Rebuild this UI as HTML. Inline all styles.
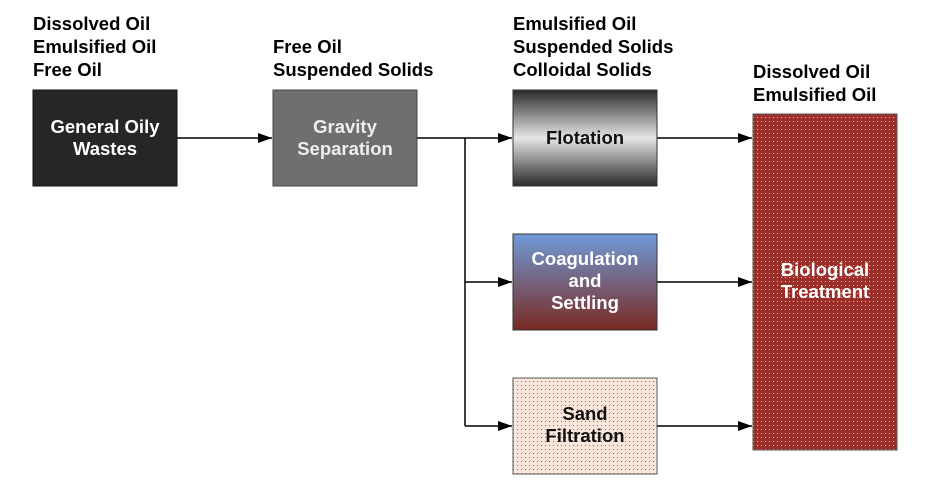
<!DOCTYPE html>
<html><head><style>body{margin:0;background:#fff}</style></head><body>
<svg width="929" height="491" xmlns="http://www.w3.org/2000/svg" font-family="Liberation Sans, Arial, sans-serif" font-weight="bold">
<defs>
<linearGradient id="flo" x1="0" y1="0" x2="0" y2="1">
<stop offset="0" stop-color="#2a2a2a"/><stop offset="0.5" stop-color="#e6e6e6"/><stop offset="1" stop-color="#2a2a2a"/></linearGradient>
<linearGradient id="coa" x1="0" y1="0" x2="0" y2="1">
<stop offset="0" stop-color="#6f9ad8"/><stop offset="1" stop-color="#7a2a22"/></linearGradient>
<pattern id="dotr" width="4" height="4" patternUnits="userSpaceOnUse"><rect width="4" height="4" fill="#9a2f2a"/><rect x="1" y="1" width="1" height="1" fill="#e8c8c4"/></pattern>
<pattern id="dots" width="4" height="4" patternUnits="userSpaceOnUse"><rect width="4" height="4" fill="#fbe6dc"/><rect x="1" y="1" width="1" height="1" fill="#8a6a60"/></pattern>
<marker id="ar" markerWidth="14" markerHeight="10" refX="14" refY="5" orient="auto" markerUnits="userSpaceOnUse"><path d="M0,0 L14,5 L0,10 z" fill="#000"/></marker>
</defs>
<g font-size="18.5" fill="#000">
<text x="33" y="30">Dissolved Oil</text><text x="33" y="53">Emulsified Oil</text><text x="33" y="76">Free Oil</text>
<text x="273" y="53">Free Oil</text><text x="273" y="76">Suspended Solids</text>
<text x="513" y="30">Emulsified Oil</text><text x="513" y="53">Suspended Solids</text><text x="513" y="76">Colloidal Solids</text>
<text x="753" y="78">Dissolved Oil</text><text x="753" y="101">Emulsified Oil</text>
</g>
<rect x="33" y="90" width="144" height="96" fill="#262626" stroke="#111"/>
<rect x="273" y="90" width="144" height="96" fill="#6f6f6f" stroke="#444"/>
<rect x="513" y="90" width="144" height="96" fill="url(#flo)" stroke="#333"/>
<rect x="513" y="234" width="144" height="96" fill="url(#coa)" stroke="#333"/>
<rect x="513" y="378" width="144" height="96" fill="url(#dots)" stroke="#555"/>
<rect x="753" y="114" width="144" height="336" fill="url(#dotr)" stroke="#555"/>
<g stroke="#000" stroke-width="1.5" fill="none">
<line x1="177" y1="138" x2="272" y2="138" marker-end="url(#ar)"/>
<line x1="417" y1="138" x2="512" y2="138" marker-end="url(#ar)"/>
<line x1="465" y1="138" x2="465" y2="426"/>
<line x1="465" y1="282" x2="512" y2="282" marker-end="url(#ar)"/>
<line x1="465" y1="426" x2="512" y2="426" marker-end="url(#ar)"/>
<line x1="657" y1="138" x2="752" y2="138" marker-end="url(#ar)"/>
<line x1="657" y1="282" x2="752" y2="282" marker-end="url(#ar)"/>
<line x1="657" y1="426" x2="752" y2="426" marker-end="url(#ar)"/>
</g>
<g font-size="18.5" text-anchor="middle">
<text x="105" y="133" fill="#fff">General Oily</text><text x="105" y="155" fill="#fff">Wastes</text>
<text x="345" y="133" fill="#eee">Gravity</text><text x="345" y="155" fill="#eee">Separation</text>
<text x="585" y="144" fill="#111">Flotation</text>
<text x="585" y="265" fill="#fff">Coagulation</text><text x="585" y="287" fill="#fff">and</text><text x="585" y="309" fill="#fff">Settling</text>
<text x="585" y="420" fill="#111">Sand</text><text x="585" y="442" fill="#111">Filtration</text>
<text x="825" y="276" fill="#fff">Biological</text><text x="825" y="298" fill="#fff">Treatment</text>
</g>
</svg>
</body></html>
